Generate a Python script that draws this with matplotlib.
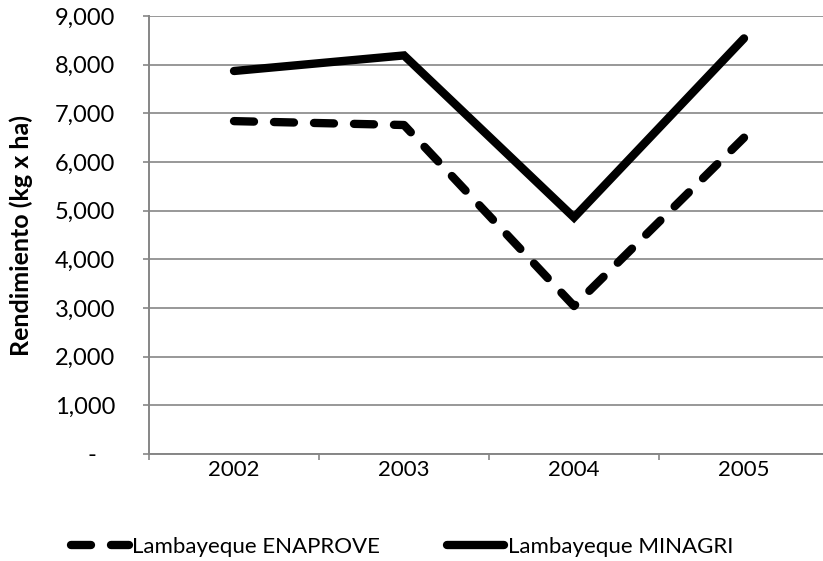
import matplotlib
matplotlib.use("Agg")
import matplotlib.pyplot as plt
from matplotlib.ticker import FixedLocator

plt.rcParams['font.family'] = ['Lato', 'DejaVu Sans']

# Rendimiento por campaña (kg x ha)
years = ["2002", "2003", "2004", "2005"]
enaprove = [6840, 6760, 3040, 6500]
minagri = [7870, 8190, 4860, 8540]

y_ticks = [0, 1000, 2000, 3000, 4000, 5000, 6000, 7000, 8000, 9000]
y_tick_labels = ["-   ", "1,000", "2,000", "3,000", "4,000", "5,000",
                 "6,000", "7,000", "8,000", "9,000"]

W, H = 823, 561
fig = plt.figure(figsize=(W / 100, H / 100), dpi=100)
ax = fig.add_axes([149 / W, 1 - 454 / H, 680 / W, 438 / H])

grey = "#868686"
x = list(range(len(years)))

ax.set_xlim(-0.5, len(years) - 0.5)
ax.set_ylim(0, 9000)

ax.yaxis.set_major_locator(FixedLocator(y_ticks))
ax.set_yticklabels(y_tick_labels)
ax.set_xticks(x)
ax.set_xticklabels(years)
ax.xaxis.set_minor_locator(FixedLocator([i - 0.5 for i in range(len(years) + 1)]))

ax.grid(axis="y", color=grey, linewidth=1.2, zorder=0)
ax.set_axisbelow(True)

for side in ("top", "right"):
    ax.spines[side].set_visible(False)
for side in ("left", "bottom"):
    ax.spines[side].set_color(grey)
    ax.spines[side].set_linewidth(1.4)

ax.tick_params(axis="y", which="major", length=4.5, width=1.2, color=grey,
               labelsize=17, pad=20, labelcolor="black")
ax.tick_params(axis="x", which="major", length=0, labelsize=16, pad=4)
ax.tick_params(axis="x", which="minor", length=4.5, width=1.2, color=grey)

lw = 6.0
l1, = ax.plot(x, enaprove, color="black", linewidth=lw,
              solid_capstyle="round", dash_capstyle="round",
              solid_joinstyle="miter", label="Lambayeque ENAPROVE", zorder=3)
l1.set_dashes((2.4, 2.4))
l2, = ax.plot(x, minagri, color="black", linewidth=lw,
              solid_capstyle="round", solid_joinstyle="miter",
              label="Lambayeque MINAGRI", zorder=3)

ax.set_ylabel("Rendimiento (kg x ha)", fontsize=18, fontweight="bold")
ax.yaxis.set_label_coords((33 - 149) / 680, 0.5)

fig.legend(handles=[l1, l2], loc="center", bbox_to_anchor=(402 / W, 1 - 547 / H),
           ncol=2, frameon=False, fontsize=16, handlelength=2.6,
           handletextpad=0.15, columnspacing=3.0)

fig.savefig("out.png", dpi=100)
